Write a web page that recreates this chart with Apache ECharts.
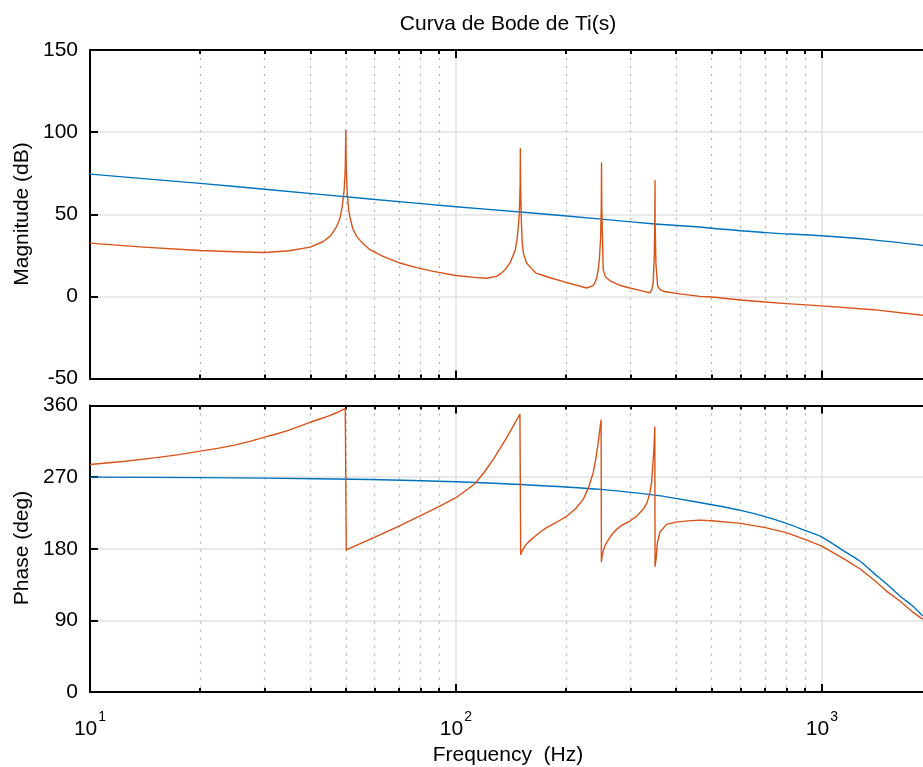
<!DOCTYPE html>
<html><head><meta charset="utf-8">
<script src="https://cdn.jsdelivr.net/npm/echarts@6/dist/echarts.min.js"></script>
<style>html,body{margin:0;padding:0;background:#fff}#c{width:923px;height:767px}</style>
</head><body><div id="c"></div><script>
// ---- data ----
const xMajorTicks = [10, 100, 1000];
const xMinorTicks = [20,30,40,50,60,70,80,90,200,300,400,500,600,700,800,900,2000];
const magTicks = [-50, 0, 50, 100, 150];
const phaseTicks = [0, 90, 180, 270, 360];

const blueMagFreq = [10, 20, 30, 58.2, 100, 150, 250, 350, 464, 500, 700, 1000, 1381, 1888];
const blueMagDb   = [74.4, 68.8, 65.2, 59.3, 54.6, 51.4, 47.0, 44.1, 42.2, 41.5, 38.8, 36.9, 34.4, 31.0];

const orangeMagFreq = [10,14,20,25,30,35,40,43.4,45.5,47.2,48.2,48.9,49.5,49.85,50,50.15,50.5,50.9,51.3,52.3,53.6,55,56.5,58.2,63,70.3,78,86.7,100,112,121,129,133,137.5,141,145.3,147,148,149,149.5,149.8,150,150.2,150.5,151,151.8,153,156,160,165.4,170,180,200,227.6,237.2,240,243,244.8,246.5,248.5,249.6,250,250.4,251.5,252.7,256,263.6,280,298.9,320,338.9,343,346,348.5,349.7,350,350.3,352,355.9,362,370.4,409,464,500,600,700,800,1000,1381,1888];
const orangeMagDb   = [32.4,30.0,27.9,27.2,26.7,27.8,30.0,33.4,37,42.5,47.5,54.6,65,78,101.2,78,62,53,48.5,41,36.4,33.5,31,28.4,24.5,20.3,17.5,15.2,12.7,11.6,11.0,12.2,14,17.3,21,28.3,35,42.4,50,60,68,89.9,70,60,45,32.4,26,20.3,17.5,14.2,13.3,11.5,8.5,5.1,6.5,8.5,12,16.2,22,35,55,81.3,55,35,16.2,12,9.5,6.8,5.1,3.5,2.2,4,8.5,25,50,70.5,45,20,6.1,4,3.0,1.5,0.0,-0.4,-2.2,-3.4,-4.4,-5.8,-8.1,-11.5];

const bluePhaseFreq = [10,20,30,58.2,100,150,250,350,399,500,600,700,800,898.6,1000,1168,1270,1381,1502,1634,1758,1888];
const bluePhaseDeg  = [270,269.4,268.7,267.1,264.2,260.8,254.6,247.4,243.3,235.3,228.2,220.3,211.9,203.1,194.7,175.1,164.6,150,136,120.6,109.3,95.5];

const orangePhaseFreq = [10,12.5,15,17.5,20,22.5,25,27.5,30,32.5,35,37.5,40,42.5,45,47.5,49.85,50.15,58.2,69.9,89.9,100,112.7,119.2,126.5,131.8,137.5,143.4,149.6,150.3,152,154.3,157.5,162.7,170,177,188,200,212,222.8,230,237.2,241,244.8,247,249.3,249.8,251,252.7,255,258,265,274.8,285,298.9,312,324.9,333,338.9,342.5,346,348,349.6,350.1,352.9,354.9,360.9,376.4,399,430,464,500,600,700,800,898.6,1000,1168,1270,1381,1502,1634,1758,1888];
const orangePhaseDeg  = [285.9,290,294.2,298.3,302.6,306.5,310.5,315.2,320.2,324.5,329,334,339,343,347,351.5,356.5,178.5,191.8,208.5,232.8,244.1,261.7,275.5,292.2,305.6,319.4,334,349,172.9,178,183.4,188,193.9,201,206.5,213,220.3,230,242,256,275.5,292,313.2,328,341.6,163.8,171,177.1,183,187.6,196,204.4,210,214.8,221,229.5,238,250.4,263,292.2,310,333,158.1,169.5,186,201,210.6,213.5,215,216,215.2,211.9,206.5,200.2,191.8,183.4,165.5,154.9,141.6,126.8,114.4,101.7,91.3];

const titleText = 'Curva de Bode de Ti(s)';
const xName = 'Frequency  (Hz)';
const magName = 'Magnitude (dB)';
const phaseName = 'Phase (deg)';

// ---- chart ----
const FONT = "'Liberation Sans', Arial, Helvetica, sans-serif";
const BLUE = '#0072BD', ORANGE = '#D95319';
const zip = (a, b) => a.map((v, i) => [v, b[i]]);

const grids = [
  {left: 90, top: 50, width: 842, height: 328.5, outerBoundsMode: 'none', containLabel: false},
  {left: 90, top: 405.5, width: 842, height: 286.5, outerBoundsMode: 'none', containLabel: false}
];

function xAxesFor(g, withLabels) {
  const base = {type: 'log', logBase: 10, min: 10, max: 2000, gridIndex: g};
  const line = {show: true, onZero: false, lineStyle: {color: '#000', width: 2}};
  return [
    Object.assign({}, base, {
      position: 'bottom', axisLine: line,
      axisTick: {show: true, inside: true, length: 8, customValues: xMajorTicks, lineStyle: {color: '#000', width: 2}},
      axisLabel: withLabels ? {
        show: true, customValues: xMajorTicks, margin: 18,
        formatter: v => '{b|10}{s|' + Math.round(Math.log10(v)) + '}',
        rich: {
          b: {fontSize: 21, fontFamily: FONT, color: '#000', lineHeight: 30, verticalAlign: 'bottom'},
          s: {fontSize: 14, fontFamily: FONT, color: '#000', lineHeight: 16, verticalAlign: 'top', padding: [0, 0, 0, 1]}
        }
      } : {show: false},
      splitLine: {show: true, lineStyle: {color: '#e2e2e2', width: 1.5}}
    }),
    Object.assign({}, base, {
      position: 'bottom', axisLine: {show: false, onZero: false},
      axisTick: {show: true, inside: true, length: 4, customValues: xMinorTicks, lineStyle: {color: '#000', width: 2}},
      axisLabel: {show: false},
      splitLine: {show: true, lineStyle: {color: '#b4b4b4', width: 1.3, type: [2, 6]}}
    }),
    Object.assign({}, base, {
      position: 'top', axisLine: line,
      axisTick: {show: true, inside: true, length: 8, customValues: xMajorTicks, lineStyle: {color: '#000', width: 2}},
      axisLabel: {show: false}, splitLine: {show: false}
    }),
    Object.assign({}, base, {
      position: 'top', axisLine: {show: false, onZero: false},
      axisTick: {show: true, inside: true, length: 4, customValues: xMinorTicks, lineStyle: {color: '#000', width: 2}},
      axisLabel: {show: false}, splitLine: {show: false}
    })
  ];
}

function yAxisFor(g, ticks) {
  return {
    type: 'value', gridIndex: g, position: 'left',
    min: ticks[0], max: ticks[ticks.length - 1], interval: ticks[1] - ticks[0],
    axisLine: {show: true, onZero: false, lineStyle: {color: '#000', width: 2}},
    axisTick: {show: true, inside: true, length: 8, lineStyle: {color: '#000', width: 2}},
    axisLabel: {show: true, margin: 12, fontSize: 21, fontFamily: FONT, color: '#000'},
    splitLine: {show: true, lineStyle: {color: '#e2e2e2', width: 1.5}}
  };
}

function lineSeries(xi, yi, data, color, z, smooth) {
  return {
    type: 'line', xAxisIndex: xi, yAxisIndex: yi, data: data,
    showSymbol: false, symbol: 'none', silent: true, z: z, smooth: smooth || false,
    lineStyle: {color: color, width: 1.4, join: 'round'}, itemStyle: {color: color}
  };
}

function txt(text, x, y, rot) {
  return {
    type: 'text', x: x, y: y, rotation: rot || 0, silent: true,
    style: {text: text, fontSize: 21, fontFamily: FONT, fill: '#000', align: 'center', verticalAlign: 'middle'}
  };
}

const chart = echarts.init(document.getElementById('c'), null, {renderer: 'canvas'});
chart.setOption({
  animation: false,
  backgroundColor: '#fff',
  grid: grids,
  xAxis: xAxesFor(0, false).concat(xAxesFor(1, true)),
  yAxis: [yAxisFor(0, magTicks), yAxisFor(1, phaseTicks)],
  series: [
    lineSeries(0, 0, zip(blueMagFreq, blueMagDb), BLUE, 2, 0.3),
    lineSeries(0, 0, zip(orangeMagFreq, orangeMagDb), ORANGE, 3),
    lineSeries(4, 1, zip(bluePhaseFreq, bluePhaseDeg), BLUE, 2, 0.3),
    lineSeries(4, 1, zip(orangePhaseFreq, orangePhaseDeg), ORANGE, 3)
  ],
  graphic: [
    txt(titleText, 508, 24),
    txt(xName, 508, 755),
    txt(magName, 22, 214, Math.PI / 2),
    txt(phaseName, 22, 548, Math.PI / 2)
  ]
});
</script></body></html>
